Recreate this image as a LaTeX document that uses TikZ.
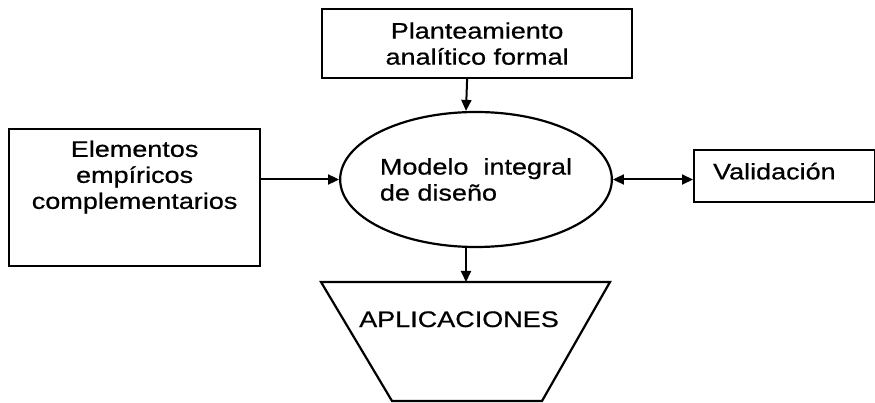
\documentclass[tikz,border=0pt]{standalone}
\usepackage{fontspec}
\setmainfont{Liberation Sans}[FakeStretch=1.2, FakeBold=0.6]
\usetikzlibrary{arrows.meta, shapes.geometric, positioning}

\tikzset{
box/.style={draw, line width=2.2pt, inner sep=0pt},
arr/.style={line width=2pt, -{Triangle[length=11pt,width=10pt]}},
darr/.style={line width=2pt, {Triangle[length=11pt,width=10pt]}-{Triangle[length=11pt,width=10pt]}},
}

\begin{document}
\begin{tikzpicture}[x=1pt, y=-1pt, font=\fontsize{22.5}{26}\selectfont]
\clip (0,0) rectangle (875,403);
\fill[white] (0,0) rectangle (875,403);

\node[box, anchor=north west, minimum width=310pt, minimum height=69pt, align=center] (plan) at (321,8) {Planteamiento\\analítico formal};
\node[box, ellipse, minimum width=268pt, minimum height=135pt, align=left] (model) at (476,179.5) {Modelo\ \ integral\\de diseño};
\node[box, anchor=north west, minimum width=251pt, minimum height=137pt] (elem) at (8,128) {};
\node[anchor=north, align=center] (elemtxt) at ([yshift=-9pt]elem.north) {Elementos\\empíricos\\complementarios};
\node[box, anchor=north west, text width=143pt, inner xsep=19pt, minimum height=52pt, text depth=10pt, align=left] (valid) at (693,149) {Validación};

% trapecio de aplicaciones
\draw[line width=2.2pt] (321,282) -- (610,282) -- (542,401) -- (392,401) -- cycle;
\coordinate (apptop) at (466,282);
\node[anchor=base] (apps) at (459,327) {APLICACIONES};

\draw[arr] ([xshift=-10pt]plan.south) -- ([xshift=-10pt]model.north);
\draw[arr] ([xshift=-10pt]model.south) -- (apptop);
\draw[arr] (elem.east |- model.west) -- (model.west);
\draw[darr] (model.east) -- (valid.west |- model.east);
\end{tikzpicture}
\end{document}
